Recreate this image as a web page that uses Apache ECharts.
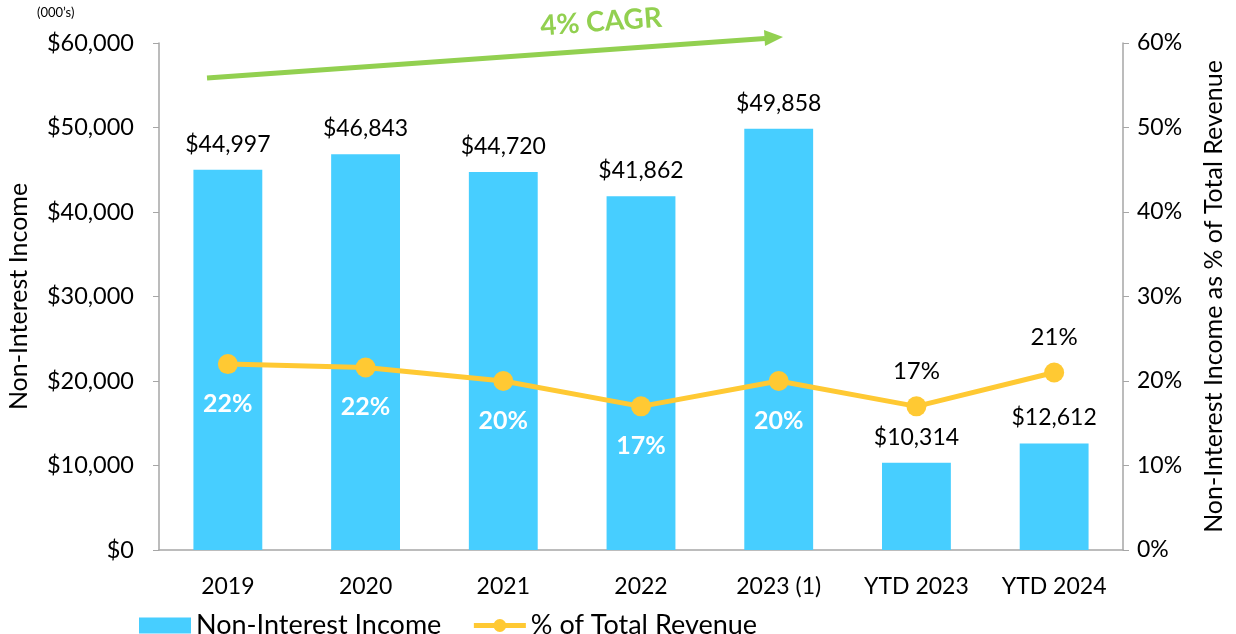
<!DOCTYPE html>
<html>
<head>
<meta charset="utf-8">
<script src="https://cdn.jsdelivr.net/npm/echarts@6/dist/echarts.min.js"></script>
<style>
  html, body { margin: 0; padding: 0; background: #fff; }
  #main { width: 1236px; height: 634px; }
</style>
</head>
<body>
<div id="main"></div>
<script>
// data
var categories = ['2019', '2020', '2021', '2022', '2023 (1)', 'YTD 2023', 'YTD 2024'];
var incomeValues = [44997, 46843, 44720, 41862, 49858, 10314, 12612];
var pctValues = [22, 21.6, 20, 17, 20, 17, 21];
var pctLabels = ['22%', '22%', '20%', '17%', '20%', '17%', '21%'];
var whiteLabelCount = 5; // first five labels sit inside the bars

var FONT = 'Lato';
var barColor = '#47CEFF';
var lineColor = '#FFC933';
var green = '#92D050';
var axisGrey = '#A6A6A6';

function money(v) {
  return '$' + Number(v).toLocaleString('en-US');
}

var lineData = [];
for (var i = 0; i < pctValues.length; i++) {
  var inside = i < whiteLabelCount;
  lineData.push({
    value: pctValues[i],
    label: inside ? {
      position: 'bottom', distance: 17, color: '#fff', fontWeight: 'bold', fontSize: 25
    } : {
      position: 'top', distance: 13, color: '#000', fontWeight: 'normal', fontSize: 24
    }
  });
}

var chart = echarts.init(document.getElementById('main'));

var option = {
  backgroundColor: '#fff',
  textStyle: { fontFamily: FONT },
  animation: false,
  grid: { left: 159, right: 113, top: 43, bottom: 84, containLabel: false, outerBoundsMode: 'none' },
  legend: {
    top: 607,
    left: 134,
    itemGap: 30,
    itemWidth: 52,
    itemHeight: 16,
    textStyle: { fontFamily: FONT, fontSize: 27, color: '#000' },
    data: [
      { name: 'Non-Interest Income', icon: 'rect' },
      {
        name: '% of Total Revenue',
        lineStyle: { width: 5, color: lineColor },
        itemStyle: { color: lineColor }
      }
    ]
  },
  xAxis: {
    type: 'category',
    data: categories,
    axisLine: { lineStyle: { color: axisGrey, width: 1.5 } },
    axisTick: { length: 7, lineStyle: { color: axisGrey } },
    axisLabel: { color: '#000', fontSize: 23, margin: 25, fontFamily: FONT }
  },
  yAxis: [
    {
      type: 'value',
      min: 0, max: 60000, interval: 10000,
      name: 'Non-Interest Income',
      nameLocation: 'middle',
      nameRotate: 90,
      nameGap: 128,
      nameTextStyle: { fontSize: 25, color: '#000', fontFamily: FONT },
      axisLine: { show: true, lineStyle: { color: axisGrey, width: 1.5 } },
      axisTick: { show: true, length: 6, lineStyle: { color: axisGrey } },
      splitLine: { show: false },
      axisLabel: { color: '#000', fontSize: 23.5, margin: 25, fontFamily: FONT, formatter: money }
    },
    {
      type: 'value',
      min: 0, max: 60, interval: 10,
      name: 'Non-Interest Income as % of Total Revenue',
      nameLocation: 'middle',
      nameRotate: 90,
      nameGap: 78,
      nameTextStyle: { fontSize: 25, color: '#000', fontFamily: FONT },
      axisLine: { show: true, lineStyle: { color: axisGrey, width: 1.5 } },
      axisTick: { show: true, length: 6, lineStyle: { color: axisGrey } },
      splitLine: { show: false },
      axisLabel: { color: '#000', fontSize: 23, margin: 14, fontFamily: FONT, formatter: '{value}%' }
    }
  ],
  series: [
    {
      name: 'Non-Interest Income',
      type: 'bar',
      data: incomeValues,
      barCategoryGap: '50%',
      itemStyle: { color: barColor },
      label: {
        show: true, position: 'top', distance: 14,
        color: '#000', fontSize: 23, fontFamily: FONT,
        formatter: function (p) { return money(p.value); }
      }
    },
    {
      name: '% of Total Revenue',
      type: 'line',
      yAxisIndex: 1,
      data: lineData,
      symbol: 'circle',
      symbolSize: 20,
      lineStyle: { color: lineColor, width: 5 },
      itemStyle: { color: lineColor },
      label: {
        show: true, fontFamily: FONT,
        formatter: function (p) { return pctLabels[p.dataIndex]; }
      },
      z: 5
    }
  ],
  graphic: [
    {
      type: 'text', left: 37, top: 6,
      style: { text: '(000\u2019s)', fontSize: 13, fontFamily: FONT, fill: '#000' }
    },
    // CAGR arrow
    {
      type: 'line',
      shape: { x1: 207, y1: 78, x2: 765, y2: 38.5 },
      style: { stroke: green, lineWidth: 5 }
    },
    {
      type: 'polygon',
      shape: { points: [[783, 37], [764, 30], [765, 46]] },
      style: { fill: green }
    },
    {
      type: 'text', x: 601, y: 22, rotation: 0.072,
      style: {
        text: '4% CAGR', fontSize: 28, fontWeight: 'bold', fontFamily: FONT,
        fill: green, align: 'center', verticalAlign: 'middle'
      }
    }
  ]
};

chart.setOption(option);
</script>
</body>
</html>
